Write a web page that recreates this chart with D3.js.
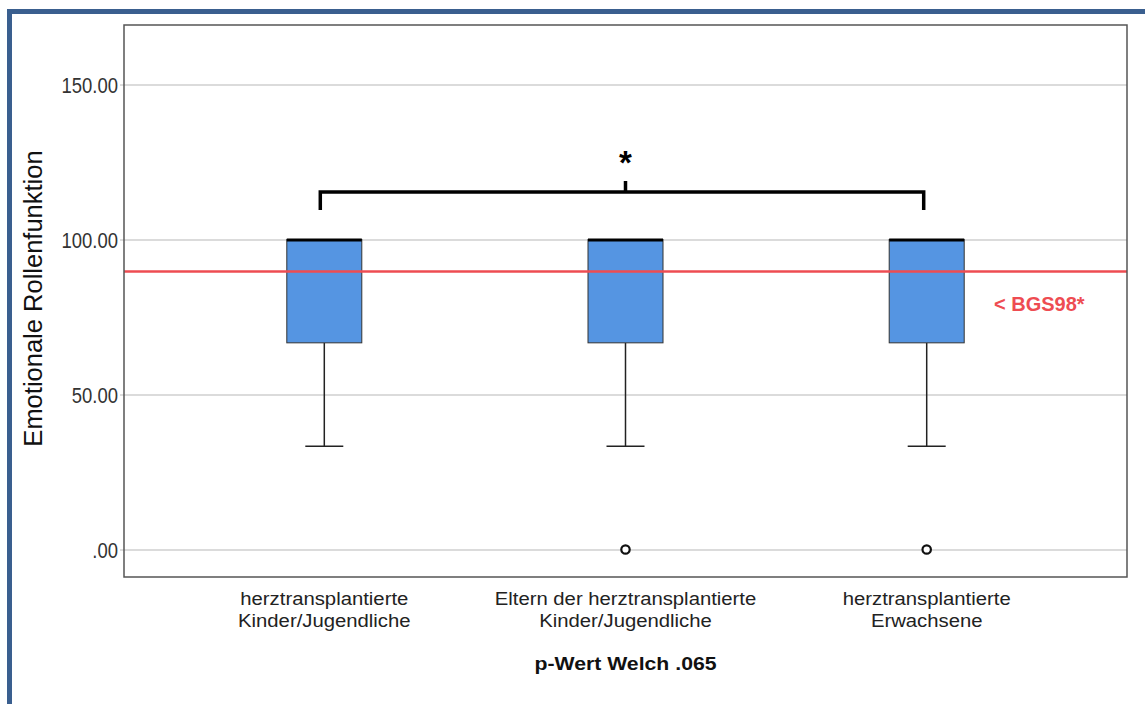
<!DOCTYPE html>
<html><head><meta charset="utf-8">
<script src="https://cdn.jsdelivr.net/npm/d3@7"></script>
<style>body{margin:0;background:#fff}svg{font-family:"Liberation Sans",Arial,sans-serif}</style>
</head><body>
<svg id="c" width="1145" height="704"></svg>
<script>
const categories = [
  ["herztransplantierte", "Kinder/Jugendliche"],
  ["Eltern der herztransplantierte", "Kinder/Jugendliche"],
  ["herztransplantierte", "Erwachsene"]
];
const whiskerLow = [33.33, 33.33, 33.33];
const q1 = [66.67, 66.67, 66.67];
const median = [100, 100, 100];
const q3 = [100, 100, 100];
const whiskerHigh = [100, 100, 100];
const outliers = [[], [0], [0]];
const yTicks = [0, 50, 100, 150];
const yTickLabels = [".00", "50.00", "100.00", "150.00"];
const referenceValue = 89.7;
const referenceLabel = "< BGS98*";
const bracketValue = 115.3, bracketEndValue = 109.5, bracketMidValue = 118.9, starValue = 126;
const yTitle = "Emotionale Rollenfunktion";
const xTitle = "p-Wert Welch .065";

const svg = d3.select("#c");
const L = 124, R = 1127, T = 25, B = 577;
const y = d3.scaleLinear().domain([-8.87, 169.2]).range([B, T]);
const x = d3.scalePoint().domain(d3.range(categories.length)).range([L, R]).padding(0.665);
const boxW = 75, capW = 38;

// outer blue frame
svg.append("rect").attr("x", 9.5).attr("y", 11.5).attr("width", 1300).attr("height", 900)
  .attr("fill", "none").attr("stroke", "#3A5F8F").attr("stroke-width", 5);

// gridlines
const grid = d3.axisLeft(y).tickValues(yTicks).tickSize(-(R - L)).tickFormat("");
svg.append("g").attr("transform", `translate(${L},0)`).call(grid)
  .call(g => g.select(".domain").remove())
  .call(g => g.selectAll("line").attr("stroke", "#cfcfcf").attr("stroke-width", 1.5));

// y tick labels
const tickScaleX = 0.84;
const yAxis = d3.axisLeft(y).tickValues(yTicks).tickSize(4).tickPadding(3)
  .tickFormat((d, i) => yTickLabels[i]);
svg.append("g").attr("transform", `translate(${L},0)`).call(yAxis)
  .call(g => g.select(".domain").remove())
  .call(g => g.selectAll("line").attr("stroke", "#bbb"))
  .call(g => g.selectAll("text").attr("font-size", 22).attr("fill", "#333")
    .attr("font-family", "Liberation Sans, Arial, sans-serif")
    .attr("x", -6 / tickScaleX).attr("dy", "0.35em")
    .attr("transform", `scale(${tickScaleX},1)`));

// x labels
const xLabScale = 1.16;
categories.forEach((c, i) => {
  c.forEach((line, j) => {
    svg.append("text").attr("transform", `translate(${x(i)},${605 + j * 22}) scale(${xLabScale},1)`)
      .attr("text-anchor", "middle").attr("font-size", 17.5).attr("fill", "#222").text(line);
  });
});

// boxes
categories.forEach((c, i) => {
  const cx = x(i);
  const g = svg.append("g");
  g.append("line").attr("x1", cx).attr("x2", cx).attr("y1", y(q1[i])).attr("y2", y(whiskerLow[i]))
    .attr("stroke", "#222").attr("stroke-width", 1.5);
  g.append("line").attr("x1", cx - capW / 2).attr("x2", cx + capW / 2).attr("y1", y(whiskerLow[i])).attr("y2", y(whiskerLow[i]))
    .attr("stroke", "#222").attr("stroke-width", 1.5);
  g.append("line").attr("x1", cx).attr("x2", cx).attr("y1", y(q3[i])).attr("y2", y(whiskerHigh[i]))
    .attr("stroke", "#222").attr("stroke-width", 1.5);
  g.append("rect").attr("x", cx - boxW / 2).attr("y", y(q3[i])).attr("width", boxW)
    .attr("height", y(q1[i]) - y(q3[i])).attr("fill", "#5595E2").attr("stroke", "#333").attr("stroke-width", 1);
  g.append("line").attr("x1", cx - boxW / 2).attr("x2", cx + boxW / 2).attr("y1", y(median[i]) + 0.5).attr("y2", y(median[i]) + 0.5)
    .attr("stroke", "#000").attr("stroke-width", 3);
  outliers[i].forEach(v => g.append("circle").attr("cx", cx).attr("cy", y(v)).attr("r", 4.2)
    .attr("fill", "#fff").attr("stroke", "#111").attr("stroke-width", 2.2));
});

// reference line
svg.append("line").attr("x1", L).attr("x2", R).attr("y1", y(referenceValue)).attr("y2", y(referenceValue))
  .attr("stroke", "#EE4C52").attr("stroke-width", 2.5);
svg.append("text").attr("x", 994).attr("y", 311).attr("font-size", 20).attr("font-weight", "bold")
  .attr("fill", "#EE4C52").text(referenceLabel);

// bracket
const bx1 = x(0) - 4, bx2 = x(2) - 3, bm = x(1);
svg.append("path")
  .attr("d", `M${bx1},${y(bracketEndValue)}V${y(bracketValue)}H${bx2}V${y(bracketEndValue)}M${bm},${y(bracketValue)}V${y(bracketMidValue)}`)
  .attr("fill", "none").attr("stroke", "#000").attr("stroke-width", 3.5);
svg.append("text").attr("x", bm).attr("y", y(starValue) + 15).attr("text-anchor", "middle")
  .attr("font-size", 33).attr("font-weight", "bold").text("*");

// frame
svg.append("rect").attr("x", L).attr("y", T).attr("width", R - L).attr("height", B - T)
  .attr("fill", "none").attr("stroke", "#555").attr("stroke-width", 1.5);

// titles
svg.append("text").attr("transform", `translate(42,298.5) rotate(-90)`)
  .attr("text-anchor", "middle").attr("font-size", 25.5).attr("fill", "#111").text(yTitle);
svg.append("text").attr("transform", `translate(${x(1)},670) scale(1.2,1)`)
  .attr("text-anchor", "middle").attr("font-size", 17.7).attr("font-weight", "bold").attr("fill", "#111").text(xTitle);
</script>
</body></html>
